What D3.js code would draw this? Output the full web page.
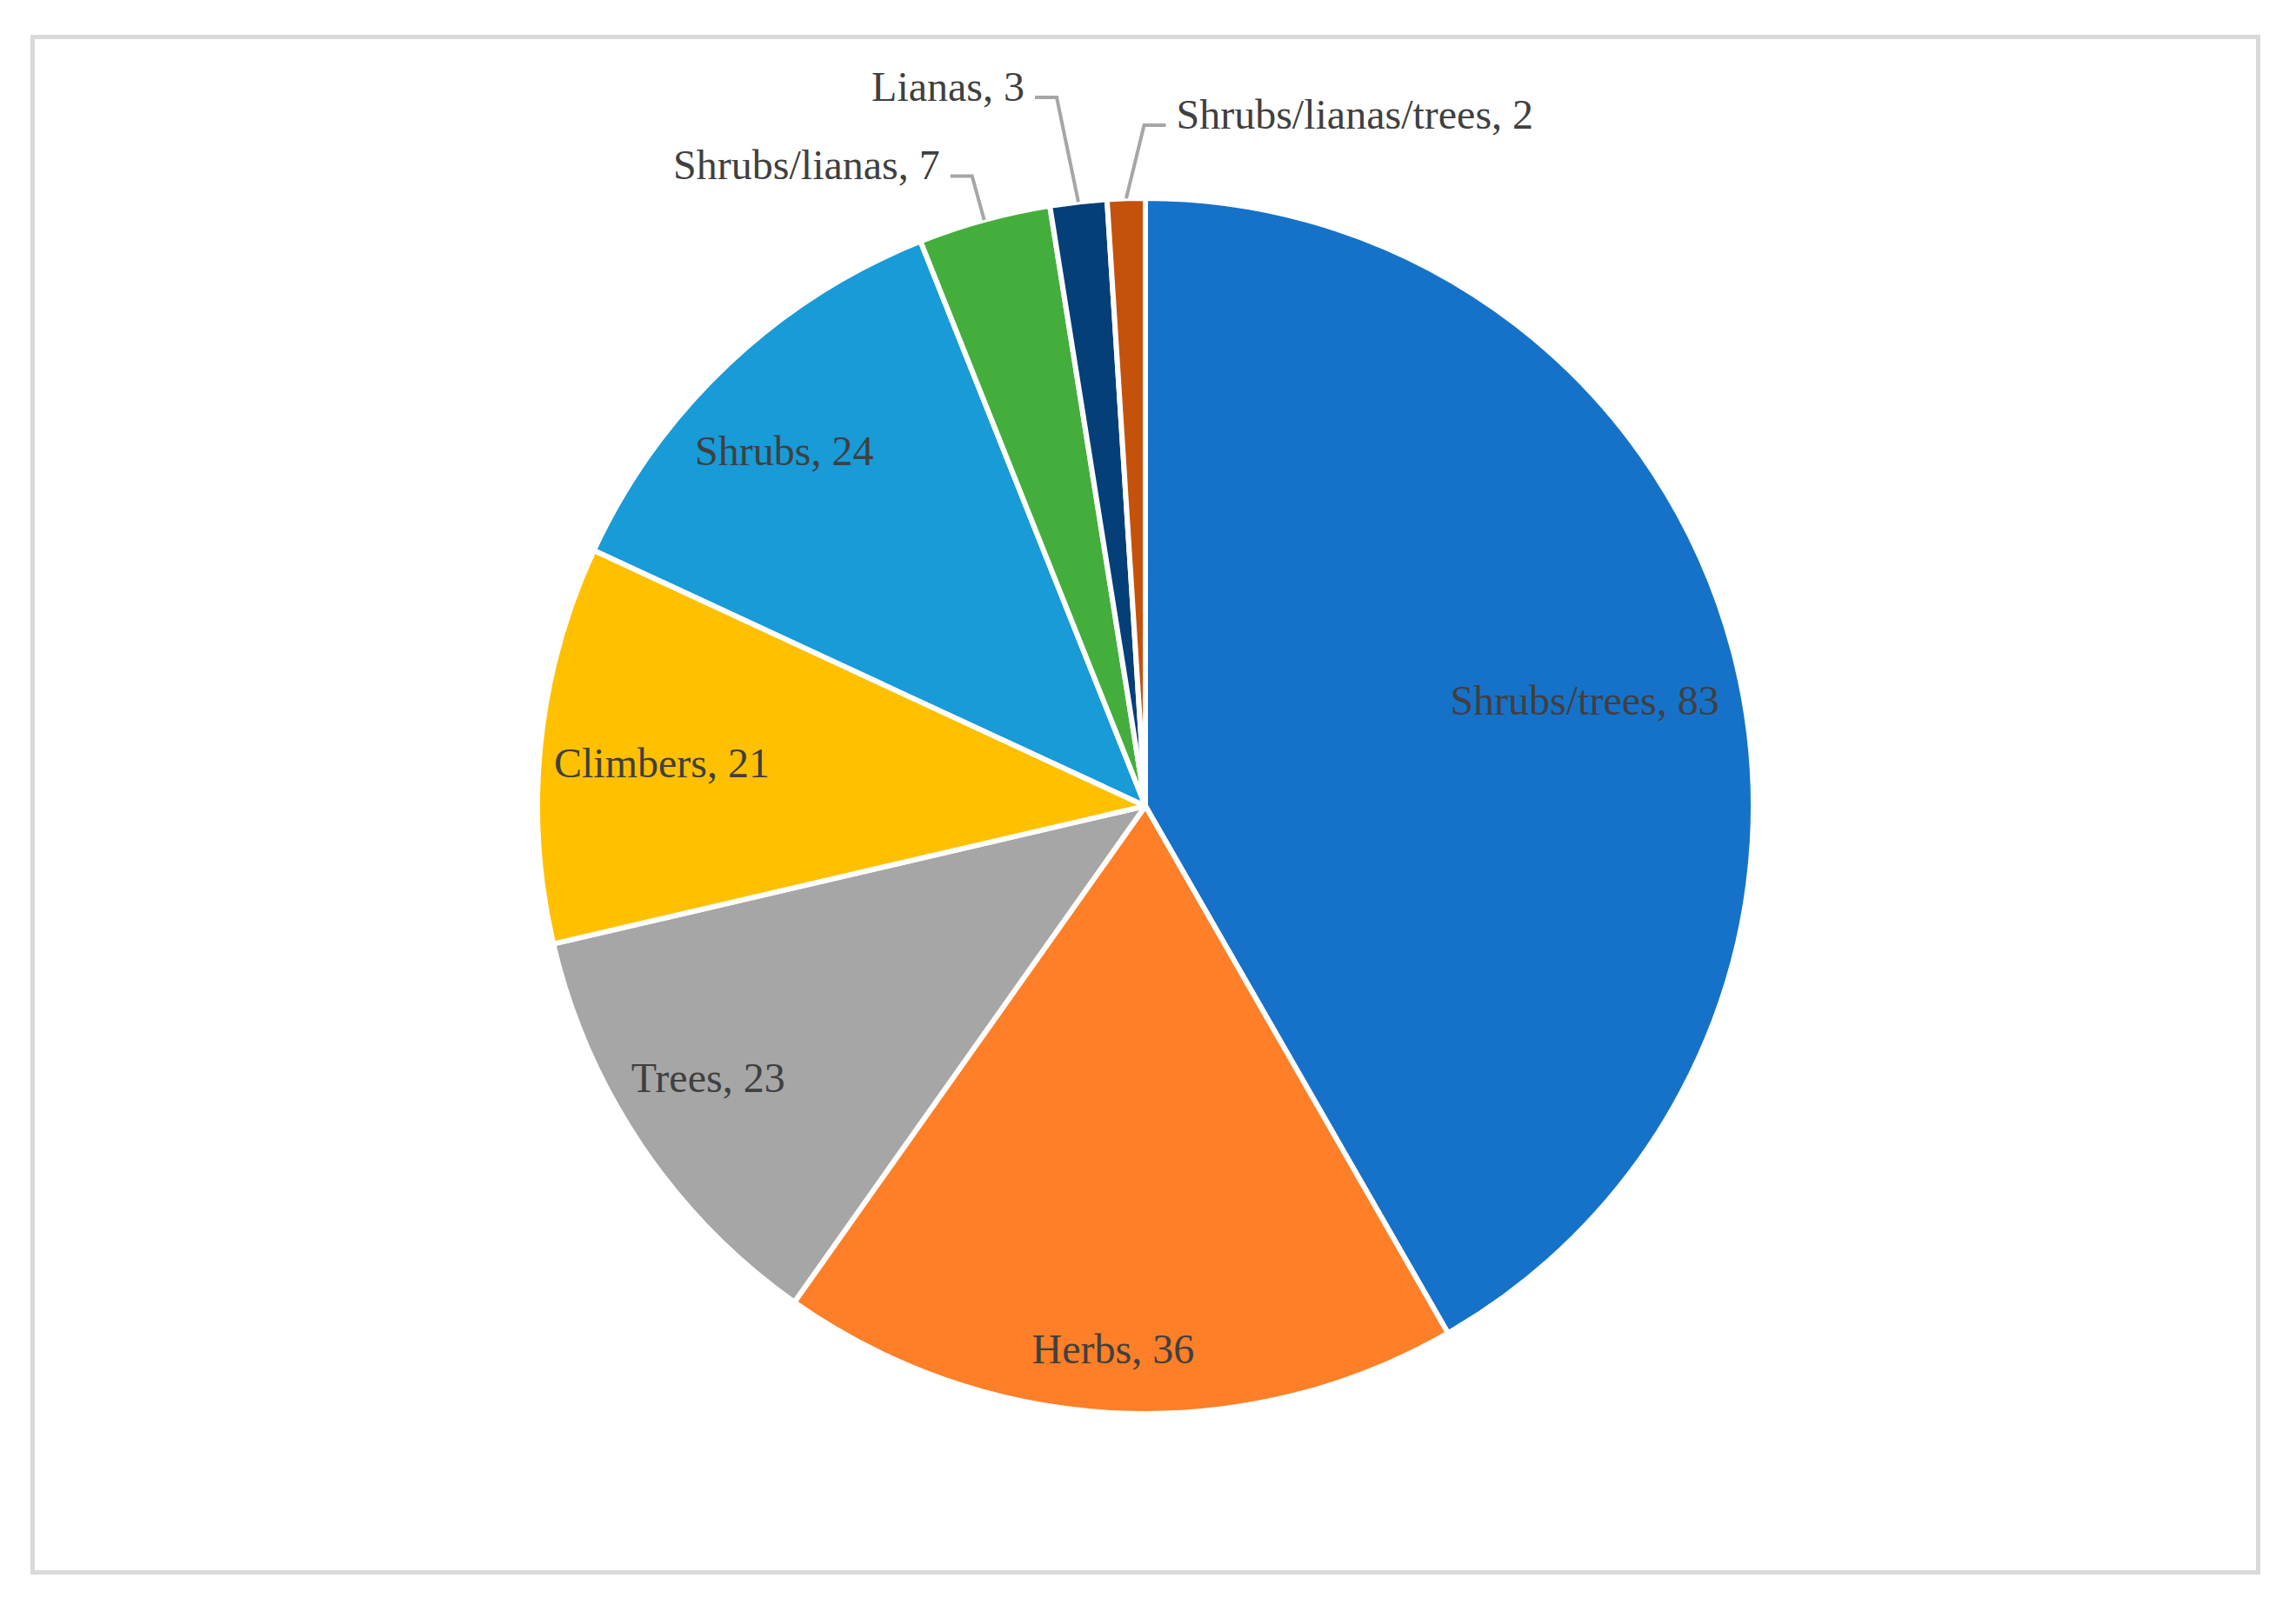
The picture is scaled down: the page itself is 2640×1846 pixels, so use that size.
<!DOCTYPE html>
<html>
<head>
<meta charset="utf-8">
<script src="https://cdn.jsdelivr.net/npm/d3@7"></script>
<style>
  html, body { margin: 0; padding: 0; background: #ffffff; }
  svg { display: block; }
</style>
</head>
<body>
<svg id="chart" width="2640" height="1846"></svg>
<script>
// ---- data ----
const categories = ["Shrubs/trees", "Herbs", "Trees", "Climbers", "Shrubs", "Shrubs/lianas", "Lianas", "Shrubs/lianas/trees"];
const values = [83, 36, 23, 21, 24, 7, 3, 2];
const colors = ["#1672c9", "#fe7f27", "#a6a6a6", "#ffc000", "#189bd7", "#44ae3c", "#043f78", "#c4520d"];

// ---- layout (not data) ----
const cx = 1317, cy = 927, R = 699;
const insideCount = 5;
const insideLabelRadius = [0.743, 0.896, 0.8475, 0.7985, 0.8326];
const insideAngleShift = [1.45, 0.68, 2.0, -0.84, -2.1];
const outsideElbowRadius = [1.075, 1.175, 1.12];
const outsideAngleShift = [0, -0.8, 1.7];
const outsideSide = [-1, -1, 1];
const fontSize = 48;

const svg = d3.select("#chart");

svg.append("rect")
  .attr("x", 37.5).attr("y", 42.5)
  .attr("width", 2559).attr("height", 1766)
  .attr("fill", "#ffffff")
  .attr("stroke", "#d9d9d9").attr("stroke-width", 5);

const pie = d3.pie().sort(null).value(d => d.v);
const data = categories.map((c, i) => ({ name: c, v: values[i], color: colors[i] }));
const arcs = pie(data);

const arc = d3.arc().innerRadius(0).outerRadius(R);

const g = svg.append("g").attr("transform", `translate(${cx},${cy})`);

g.selectAll("path.slice")
  .data(arcs)
  .join("path")
  .attr("class", "slice")
  .attr("d", arc)
  .attr("fill", d => d.data.color)
  .attr("stroke", "#ffffff")
  .attr("stroke-width", 6)
  .attr("stroke-linejoin", "round");

function polar(angle, r) {
  return [Math.sin(angle) * r, -Math.cos(angle) * r];
}
const rad = Math.PI / 180;
const font = "'Liberation Serif', 'Times New Roman', serif";

// inside labels
arcs.slice(0, insideCount).forEach((d, i) => {
  const mid = (d.startAngle + d.endAngle) / 2 + insideAngleShift[i] * rad;
  const [x, y] = polar(mid, R * insideLabelRadius[i]);
  g.append("text")
    .attr("x", x).attr("y", y)
    .attr("dy", "0.33em")
    .attr("text-anchor", "middle")
    .attr("font-family", font)
    .attr("font-size", fontSize)
    .attr("fill", "#404040")
    .text(`${d.data.name}, ${d.data.v}`);
});

// outside labels with leader lines
arcs.slice(insideCount).forEach((d, j) => {
  const mid = (d.startAngle + d.endAngle) / 2;
  const p0 = polar(mid, R * 1.0);
  const p1 = polar(mid + outsideAngleShift[j] * rad, R * outsideElbowRadius[j]);
  const side = outsideSide[j];
  const p2 = [p1[0] + side * 25, p1[1]];
  g.append("polyline")
    .attr("points", [p0, p1, p2].map(p => p.join(",")).join(" "))
    .attr("fill", "none")
    .attr("stroke", "#a6a6a6")
    .attr("stroke-width", 4);
  g.append("text")
    .attr("x", p2[0] + side * 12)
    .attr("y", p2[1] + 4)
    .attr("text-anchor", side < 0 ? "end" : "start")
    .attr("font-family", font)
    .attr("font-size", fontSize)
    .attr("fill", "#404040")
    .text(`${d.data.name}, ${d.data.v}`);
});
</script>
</body>
</html>
